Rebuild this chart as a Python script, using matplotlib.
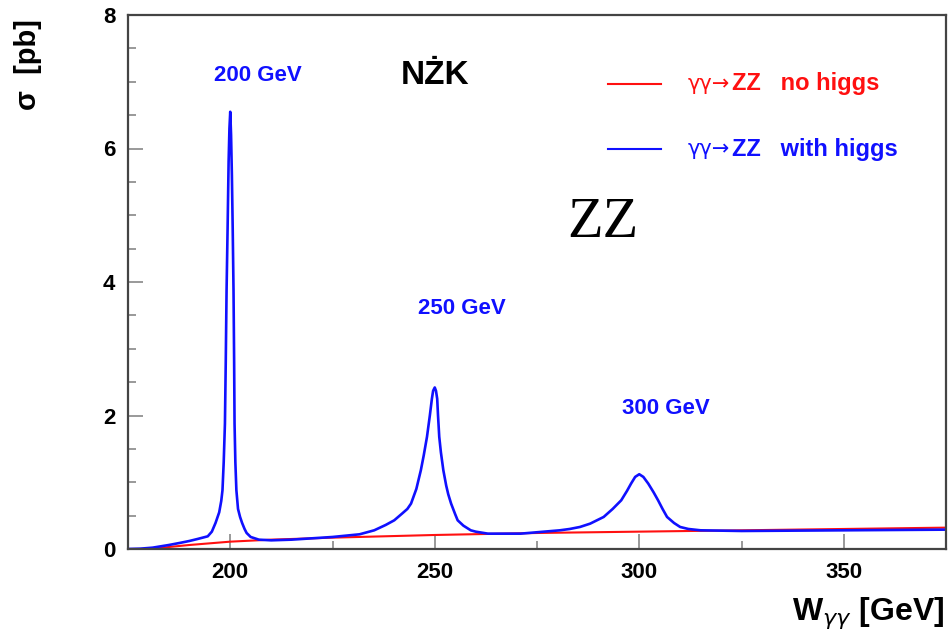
import matplotlib
matplotlib.use("Agg")
from matplotlib import pyplot as plt
from matplotlib.ticker import MultipleLocator

# sigma(gamma gamma -> ZZ) [pb] vs W_gg [GeV]
w_nohiggs = [175, 181, 185, 190, 200, 210, 225, 250, 275, 300, 325, 350, 375]
sigma_nohiggs = [0.0, 0.0, 0.03, 0.06, 0.11, 0.14, 0.17, 0.21, 0.24, 0.26, 0.28, 0.30, 0.32]

w_higgs = [175, 178, 181, 183, 185, 188, 190, 192, 194.5, 195.5, 196.4, 197.3,
           197.8, 198.1, 198.4, 198.7, 198.9, 199.1, 199.35, 199.6, 199.8, 200,
           200.2, 200.4, 200.6, 200.8, 200.95, 201.05, 201.25, 201.5, 201.9,
           202.4, 202.9, 203.5, 204, 205, 207, 210, 215, 220, 225,
           231.6, 235.2, 238, 240.1, 242, 243.3, 244.2, 245.5, 246.6, 247.3,
           248.1, 248.8, 249.3, 249.6, 250, 250.3, 250.6, 250.8, 251.1, 251.5,
           252.1, 252.8, 253.3, 254, 255, 255.6, 257, 258.8, 260, 263, 271,
           280.6, 283, 285.5, 288, 291.3, 293.5, 295.6, 297, 298, 299,
           300, 301, 302.2, 303.5, 304.6, 305.7, 306.8, 308.5, 310, 312, 315,
           325, 350, 375]
sigma_higgs = [0.0, 0.005, 0.02, 0.04, 0.06, 0.095, 0.12, 0.15, 0.19, 0.26, 0.39, 0.55,
               0.72, 0.88, 1.3, 1.88, 2.8, 3.87, 4.8, 5.8, 6.3, 6.55,
               6.2, 5.6, 4.8, 3.87, 2.8, 1.88, 1.3, 0.88, 0.6,
               0.48, 0.39, 0.3, 0.24, 0.18, 0.14, 0.13, 0.14, 0.16, 0.18,
               0.22, 0.28, 0.36, 0.43, 0.53, 0.6, 0.68, 0.9, 1.18, 1.4,
               1.68, 2.0, 2.25, 2.37, 2.42, 2.37, 2.25, 2.0, 1.68, 1.45,
               1.18, 0.95, 0.82, 0.68, 0.52, 0.43, 0.35, 0.28, 0.26, 0.23, 0.23,
               0.28, 0.3, 0.33, 0.38, 0.48, 0.6, 0.73, 0.87, 0.98, 1.08,
               1.12, 1.08, 0.98, 0.85, 0.73, 0.6, 0.48, 0.39, 0.33, 0.3, 0.28,
               0.27, 0.28, 0.29]

peak_labels = ["200 GeV", "250 GeV", "300 GeV"]
peak_label_pos = [(206.8, 7.09), (256.7, 3.6), (306.5, 2.1)]

plt.rcParams['font.family'] = ['Liberation Sans', 'DejaVu Sans']

fig = plt.figure(figsize=(9.49, 6.36), dpi=100)
ax = fig.add_axes([128 / 949, 87 / 636, 818 / 949, 534 / 636])

ax.plot(w_nohiggs, sigma_nohiggs, color='#ff1010', lw=1.5)
ax.plot(w_higgs, sigma_higgs, color='#1010ff', lw=1.9)

ax.set_xlim(175, 375)
ax.set_ylim(0, 8)
ax.xaxis.set_major_locator(MultipleLocator(50))
ax.xaxis.set_minor_locator(MultipleLocator(25))
ax.yaxis.set_major_locator(MultipleLocator(2))
ax.yaxis.set_minor_locator(MultipleLocator(0.5))
ax.tick_params(which='both', direction='in', color='#888888', width=1.2)
ax.tick_params(which='major', length=11, labelsize=16, pad=9)
ax.tick_params(which='minor', length=5.5)
for lab in ax.get_xticklabels() + ax.get_yticklabels():
    lab.set_fontweight('bold')
for sp in ax.spines.values():
    sp.set_color('#444444')
    sp.set_linewidth(1.6)

for txt, (x, y) in zip(peak_labels, peak_label_pos):
    ax.text(x, y, txt, color='#1010ff', fontsize=16, fontweight='bold',
            ha='center', va='center')

ax.text(250.1, 7.1, "NŻK", fontsize=24, fontweight='bold', ha='center', va='center')
ax.text(291.1, 4.88, "ZZ", fontsize=42, family='Liberation Serif',
        ha='center', va='center')

# legend drawn by hand like the ROOT one
legend = [("no higgs", '#ff1010', 6.97), ("with higgs", '#1010ff', 5.99)]
for name, col, y in legend:
    ax.plot([292.4, 305.3], [y, y], color=col, lw=1.5)
    ax.text(311.9, y, "γγ→", color=col, fontsize=15, family='DejaVu Sans',
            ha='left', va='center')
    ax.text(322.6, y, "ZZ   " + name, color=col, fontsize=17, fontweight='bold',
            ha='left', va='center')

fig.text(28 / 949, 1 - 65 / 636, "σ  [pb]", rotation=90, fontsize=21,
         fontweight='bold', ha='center', va='center')
fig.text(944 / 949, 1 - 620 / 636, r"W$_{\gamma\gamma}$ [GeV]", fontsize=23,
         fontweight='bold', ha='right', va='baseline')

fig.savefig("out.png", dpi=100)
